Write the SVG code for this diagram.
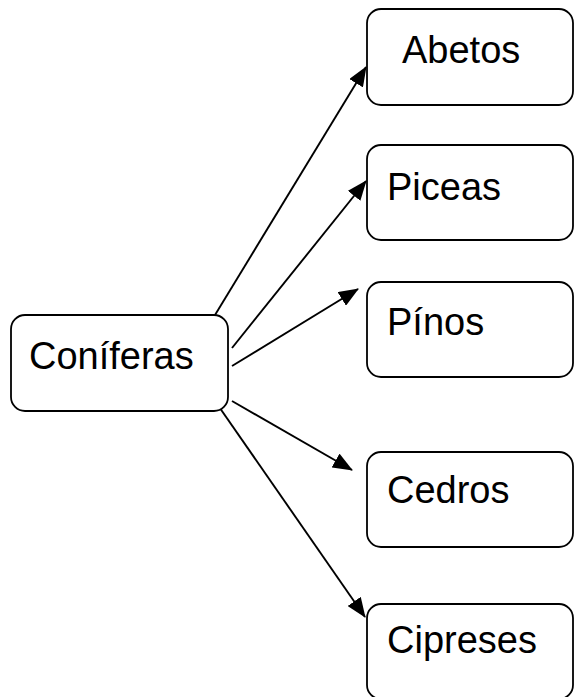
<svg xmlns="http://www.w3.org/2000/svg" width="575" height="697" viewBox="0 0 575 697">
  <style>
    .box { fill: #ffffff; stroke: #000000; stroke-width: 1.8; }
    .label { font-family: "Liberation Sans", Arial, sans-serif; font-size: 38px; fill: #000000; }
    .edge { fill: none; stroke: #000000; stroke-width: 1.9; marker-end: url(#head); }
  </style>
  <defs>
    <marker id="head" markerUnits="userSpaceOnUse" markerWidth="20" markerHeight="16" refX="19" refY="8" orient="auto">
      <path d="M0,0 L20,8 L0,16 z" fill="#000000"/>
    </marker>
  </defs>

  <rect width="575" height="697" fill="#ffffff"/>

  <g id="edges">
    <line class="edge" x1="215" y1="315" x2="366" y2="67"/>
    <line class="edge" x1="232" y1="348" x2="366" y2="181"/>
    <line class="edge" x1="232" y1="366" x2="358" y2="289"/>
    <line class="edge" x1="232" y1="401" x2="352" y2="470"/>
    <line class="edge" x1="215" y1="401" x2="365" y2="617"/>
  </g>

  <g id="node-coniferas">
    <rect class="box" x="11" y="315" width="217" height="96" rx="14"/>
    <text class="label" x="29" y="369">Coníferas</text>
  </g>

  <g id="node-abetos">
    <rect class="box" x="367" y="9" width="206" height="96" rx="14"/>
    <text class="label" x="402" y="63">Abetos</text>
  </g>

  <g id="node-piceas">
    <rect class="box" x="367" y="145" width="206" height="95" rx="14"/>
    <text class="label" x="387" y="200">Piceas</text>
  </g>

  <g id="node-pinos">
    <rect class="box" x="367" y="282" width="206" height="95" rx="14"/>
    <text class="label" x="387" y="335">Pínos</text>
  </g>

  <g id="node-cedros">
    <rect class="box" x="367" y="452" width="206" height="95" rx="14"/>
    <text class="label" x="387" y="503">Cedros</text>
  </g>

  <g id="node-cipreses">
    <rect class="box" x="367" y="604" width="206" height="95" rx="14"/>
    <text class="label" x="387" y="653">Cipreses</text>
  </g>
</svg>
